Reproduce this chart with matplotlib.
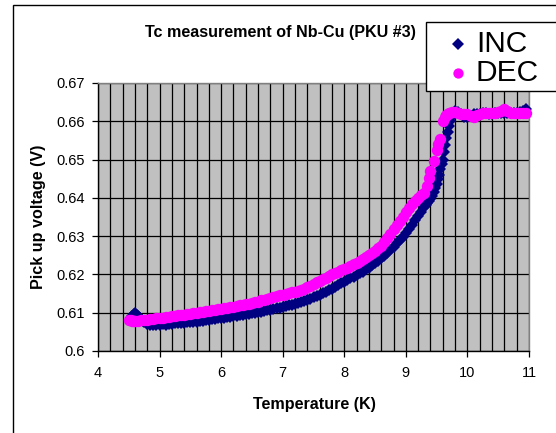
import matplotlib
matplotlib.use("Agg")
import matplotlib.pyplot as plt
from matplotlib.patches import Rectangle
from matplotlib.lines import Line2D
from matplotlib.ticker import MultipleLocator, FixedLocator

plt.rcParams['font.family'] = ['Liberation Sans', 'DejaVu Sans']

title = "Tc measurement of Nb-Cu (PKU #3)"
xlabel = "Temperature (K)"
ylabel = "Pick up voltage (V)"
series_names = ["INC", "DEC"]
x_ticks = [4, 5, 6, 7, 8, 9, 10, 11]
y_ticks = [0.6, 0.61, 0.62, 0.63, 0.64, 0.65, 0.66, 0.67]
y_tick_labels = ["0.6", "0.61", "0.62", "0.63", "0.64", "0.65", "0.66", "0.67"]

inc_T = [4.55, 4.58, 4.60, 4.63, 4.65, 4.68, 4.70, 4.73, 4.75, 4.80, 4.85, 4.90,
         4.95, 5.00, 5.05, 5.10, 5.15, 5.20, 5.25, 5.30, 5.35, 5.40, 5.45, 5.50,
         5.55, 5.60, 5.65, 5.70, 5.75, 5.80, 5.85, 5.90, 5.95, 6.00, 6.05, 6.10,
         6.15, 6.20, 6.25, 6.30, 6.35, 6.40, 6.45, 6.50, 6.55, 6.60, 6.65, 6.70,
         6.75, 6.80, 6.85, 6.90, 6.95, 7.00, 7.05, 7.10, 7.15, 7.20, 7.25, 7.30,
         7.35, 7.40, 7.45, 7.50, 7.55, 7.60, 7.65, 7.70, 7.75, 7.80, 7.85, 7.90,
         7.95, 8.00, 8.05, 8.10, 8.15, 8.20, 8.25, 8.30, 8.35, 8.40, 8.45, 8.50,
         8.55, 8.60, 8.65, 8.70, 8.75, 8.80, 8.85, 8.90, 8.95, 9.00, 9.05, 9.10,
         9.15, 9.20, 9.25, 9.30, 9.33, 9.35, 9.38, 9.40, 9.43, 9.45, 9.48, 9.50,
         9.52, 9.54, 9.56, 9.58, 9.60, 9.62, 9.64, 9.66, 9.68, 9.70, 9.72, 9.74,
         9.76, 9.78, 9.80, 9.85, 9.90, 9.95, 10.00, 10.05, 10.10, 10.15, 10.20,
         10.25, 10.30, 10.35, 10.40, 10.45, 10.50, 10.55, 10.60, 10.65, 10.70,
         10.75, 10.80, 10.85, 10.90, 10.95]
inc_V = [0.6092, 0.6097, 0.6098, 0.6095, 0.6092, 0.6087, 0.6083, 0.6078, 0.6075,
         0.6071, 0.6069, 0.6068, 0.6069, 0.6068, 0.6070, 0.6069, 0.6071, 0.6071,
         0.6072, 0.6073, 0.6072, 0.6074, 0.6075, 0.6076, 0.6076, 0.6077, 0.6079,
         0.6079, 0.6081, 0.6081, 0.6083, 0.6084, 0.6085, 0.6086, 0.6087, 0.6088,
         0.6090, 0.6091, 0.6092, 0.6093, 0.6095, 0.6096, 0.6097, 0.6099, 0.6100,
         0.6102, 0.6103, 0.6105, 0.6107, 0.6108, 0.6110, 0.6112, 0.6113, 0.6115,
         0.6117, 0.6119, 0.6121, 0.6123, 0.6126, 0.6128, 0.6131, 0.6134, 0.6137,
         0.6140, 0.6144, 0.6147, 0.6151, 0.6155, 0.6159, 0.6163, 0.6168, 0.6172,
         0.6177, 0.6181, 0.6186, 0.6190, 0.6194, 0.6198, 0.6203, 0.6207, 0.6213,
         0.6218, 0.6224, 0.6230, 0.6236, 0.6242, 0.6249, 0.6256, 0.6264, 0.6272,
         0.6281, 0.6290, 0.6299, 0.6308, 0.6319, 0.6330, 0.6341, 0.6352, 0.6363,
         0.6375, 0.6381, 0.6387, 0.6392, 0.6398, 0.6406, 0.6415, 0.6426, 0.6437,
         0.6449, 0.6461, 0.6475, 0.6488, 0.6500, 0.6520, 0.6538, 0.6556, 0.6573,
         0.6587, 0.6600, 0.6610, 0.6617, 0.6622, 0.6626, 0.6623, 0.6618, 0.6612,
         0.6610, 0.6614, 0.6618, 0.6620, 0.6620, 0.6621, 0.6621, 0.6620, 0.6620,
         0.6621, 0.6621, 0.6622, 0.6622, 0.6621, 0.6621, 0.6622, 0.6622, 0.6623,
         0.6626, 0.6632]

dec_T = [4.50, 4.53, 4.55, 4.58, 4.60, 4.65, 4.70, 4.75, 4.80, 4.85, 4.90, 4.95,
         5.00, 5.05, 5.10, 5.15, 5.20, 5.25, 5.30, 5.35, 5.40, 5.45, 5.50, 5.55,
         5.60, 5.65, 5.70, 5.75, 5.80, 5.85, 5.90, 5.95, 6.00, 6.05, 6.10, 6.15,
         6.20, 6.25, 6.30, 6.35, 6.40, 6.45, 6.50, 6.55, 6.60, 6.65, 6.70, 6.75,
         6.80, 6.85, 6.90, 6.95, 7.00, 7.05, 7.10, 7.15, 7.20, 7.25, 7.30, 7.35,
         7.40, 7.45, 7.50, 7.55, 7.60, 7.65, 7.70, 7.75, 7.80, 7.85, 7.90, 7.95,
         8.00, 8.05, 8.10, 8.15, 8.20, 8.25, 8.30, 8.35, 8.40, 8.45, 8.50, 8.55,
         8.60, 8.65, 8.70, 8.75, 8.80, 8.85, 8.90, 8.95, 9.00, 9.05, 9.10, 9.15,
         9.20, 9.25, 9.30, 9.35, 9.38, 9.40, 9.45, 9.50, 9.53, 9.55, 9.60, 9.63,
         9.65, 9.68, 9.70, 9.75, 9.80, 9.85, 9.90, 9.95, 10.00, 10.05, 10.10,
         10.15, 10.20, 10.25, 10.30, 10.35, 10.40, 10.45, 10.50, 10.55, 10.60,
         10.65, 10.70, 10.75, 10.80, 10.85, 10.90, 10.95]
dec_V = [0.6081, 0.6080, 0.6079, 0.6078, 0.6078, 0.6079, 0.6080, 0.6081, 0.6082,
         0.6083, 0.6084, 0.6085, 0.6086, 0.6087, 0.6088, 0.6090, 0.6091, 0.6092,
         0.6093, 0.6094, 0.6095, 0.6096, 0.6097, 0.6098, 0.6099, 0.6101, 0.6102,
         0.6104, 0.6105, 0.6106, 0.6107, 0.6109, 0.6110, 0.6112, 0.6113, 0.6115,
         0.6116, 0.6118, 0.6119, 0.6121, 0.6122, 0.6124, 0.6125, 0.6127, 0.6129,
         0.6132, 0.6134, 0.6137, 0.6139, 0.6141, 0.6143, 0.6145, 0.6147, 0.6149,
         0.6151, 0.6153, 0.6155, 0.6157, 0.6160, 0.6163, 0.6167, 0.6171, 0.6175,
         0.6179, 0.6183, 0.6187, 0.6191, 0.6196, 0.6200, 0.6204, 0.6207, 0.6211,
         0.6214, 0.6218, 0.6222, 0.6226, 0.6230, 0.6235, 0.6240, 0.6245, 0.6250,
         0.6255, 0.6261, 0.6268, 0.6275, 0.6285, 0.6295, 0.6306, 0.6318, 0.6329,
         0.6340, 0.6351, 0.6362, 0.6374, 0.6385, 0.6393, 0.6400, 0.6407, 0.6413,
         0.6430, 0.6452, 0.6470, 0.6495, 0.6525, 0.6540, 0.6555, 0.6600, 0.6610,
         0.6616, 0.6620, 0.6622, 0.6624, 0.6623, 0.6621, 0.6620, 0.6620, 0.6619,
         0.6614, 0.6611, 0.6617, 0.6620, 0.6621, 0.6621, 0.6622, 0.6622, 0.6622,
         0.6623, 0.6628, 0.6632, 0.6626, 0.6622, 0.6622, 0.6622, 0.6622, 0.6622,
         0.6622]

W, H = 556, 433
fig = plt.figure(figsize=(W / 100, H / 100), dpi=100)
L, R, T, B = 98, 529, 83, 351
ax = fig.add_axes([L / W, 1 - B / H, (R - L) / W, (B - T) / H])
ax.set_facecolor('#C0C0C0')
ax.set_xlim(4, 11)
ax.set_ylim(0.6, 0.67)

navy = '#000080'
magenta = '#FF00FF'
ax.plot(inc_T, inc_V, linestyle='none', marker='D', markersize=6.2,
        color=navy, markeredgewidth=0, zorder=3, clip_on=False)
ax.plot(dec_T, dec_V, linestyle='none', marker='o', markersize=8.2,
        color=magenta, markeredgewidth=0, zorder=4, clip_on=False)

ax.xaxis.set_major_locator(FixedLocator(x_ticks))
ax.xaxis.set_minor_locator(MultipleLocator(0.2))
ax.yaxis.set_major_locator(FixedLocator(y_ticks))
ax.set_yticklabels(y_tick_labels)
ax.set_xticklabels([str(v) for v in x_ticks])
ax.grid(which='minor', axis='x', color='black', linewidth=0.9)
ax.grid(which='major', axis='x', color='black', linewidth=0.9)
ax.grid(which='major', axis='y', color='black', linewidth=0.9)
ax.set_axisbelow(True)
ax.tick_params(axis='both', which='major', direction='out', length=4,
               width=0.9, labelsize=10.5, colors='black')
ax.tick_params(axis='x', which='major', pad=7)
ax.tick_params(axis='y', which='major', pad=5.5)
ax.tick_params(axis='x', which='minor', length=0)
for s in ['left', 'bottom']:
    ax.spines[s].set_color('black')
    ax.spines[s].set_linewidth(1.0)
for s in ['top', 'right']:
    ax.spines[s].set_color('#808080')
    ax.spines[s].set_linewidth(1.0)

fig.text(280 / W, 1 - 33 / H, title, ha='center', va='center',
         fontsize=11.6, fontweight='bold')
fig.text(314 / W, 1 - 405 / H, xlabel, ha='center', va='center',
         fontsize=11.6, fontweight='bold')
fig.text(39 / W, 1 - 217 / H, ylabel, ha='center', va='center',
         fontsize=11.6, fontweight='bold', rotation=90)

# outer chart frame
fig.patches.append(Rectangle((12.5 / W, -0.2), 2.0, 1.2 - 4.5 / H,
                             transform=fig.transFigure, fill=False,
                             edgecolor='black', linewidth=1.0, zorder=1))

# legend (extends beyond the right edge as in the original)
fig.patches.append(Rectangle((426 / W, 1 - 91 / H), 1.0, (91 - 22) / H,
                             transform=fig.transFigure, facecolor='white',
                             edgecolor='black', linewidth=1.0, zorder=10))
fig.lines.append(Line2D([458 / W], [1 - 44 / H], transform=fig.transFigure,
                        linestyle='none', marker='D', markersize=6.0,
                        color=navy, markeredgewidth=0, zorder=11))
fig.lines.append(Line2D([458 / W], [1 - 73 / H], transform=fig.transFigure,
                        linestyle='none', marker='o', markersize=7.4,
                        color=magenta, markeredgewidth=0, zorder=11))
fig.text(476 / W, 1 - 44 / H, series_names[0], ha='left', va='center',
         fontsize=21.5, zorder=12)
fig.text(476 / W, 1 - 73 / H, series_names[1], ha='left', va='center',
         fontsize=21.5, zorder=12)

fig.savefig('out.png', dpi=100)
